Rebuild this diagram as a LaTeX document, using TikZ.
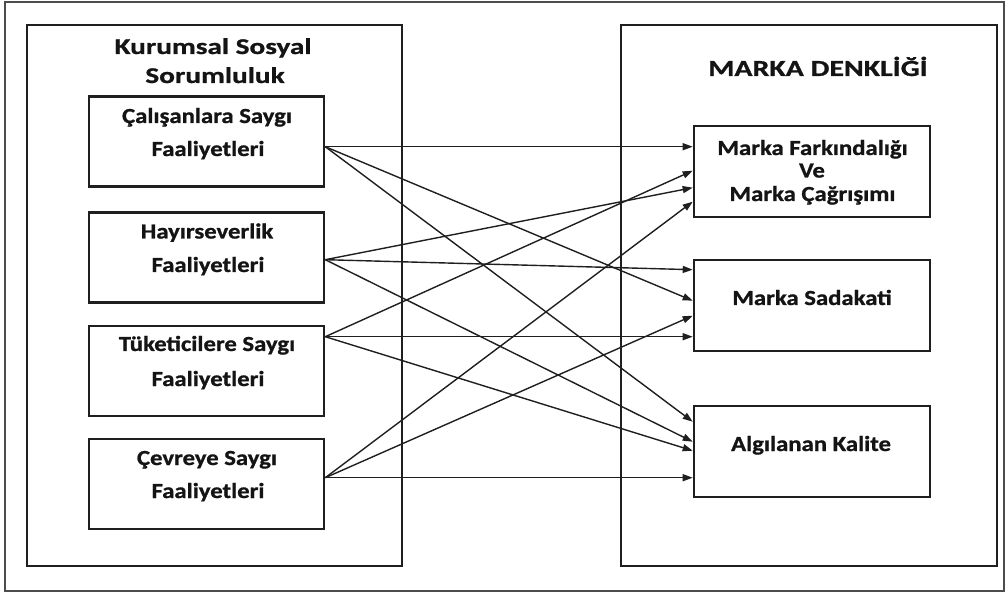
\documentclass[tikz,border=0pt]{standalone}
\usepackage{fontspec}
\setmainfont{Carlito}[FakeStretch=1.15, BoldFeatures={FakeBold=1}]
\newfontfamily\headfont{Carlito}[FakeStretch=1.3, BoldFeatures={FakeBold=1}]
\usetikzlibrary{arrows.meta,calc}
\begin{document}
\begin{tikzpicture}[x=1pt,y=-1pt,
  outerframe/.style={draw=black!70,line width=1.2pt,inner sep=0pt},
  bigbox/.style={draw=black!88,line width=2.6pt,inner sep=0pt},
  box/.style={draw=black!88,line width=2.6pt,inner sep=0pt,minimum width=235pt,minimum height=90pt},
  rbox/.style={draw=black!88,line width=2.6pt,inner sep=0pt,minimum width=236pt,minimum height=91pt},
  head/.style={font=\headfont\bfseries\fontsize{22.5}{26}\selectfont,anchor=base,inner sep=0pt,text=black!92},
  lbl/.style={font=\bfseries\fontsize{21.5}{26}\selectfont,anchor=base,inner sep=0pt,text=black!92},
  rlbl/.style={font=\bfseries\fontsize{21.5}{24}\selectfont,anchor=base,inner sep=0pt,text=black!92},
  conn/.style={draw=black!88,line width=1.4pt,-{Triangle[length=10pt,width=7pt]}}]
\useasboundingbox (0,0) rectangle (1006,593);
% outer frame and containers
\node[outerframe,minimum width=999pt,minimum height=589pt] (frame) at (504.5,296.5) {};
\node[bigbox,minimum width=375pt,minimum height=541pt] (L) at (214.5,295.5) {};
\node[bigbox,minimum width=376pt,minimum height=541pt] (R) at (809,295.5) {};
% headings
\node[head] (hl1) at (213,54) {Kurumsal Sosyal};
\node[head] (hl2) at (215,83) {Sorumluluk};
\node[head,font=\headfont\bfseries\fontsize{23}{26}\selectfont] (hr) at (818,76) {MARKA DENKLİĞİ};
% left boxes
\node[box] (b1) at (206.5,141.5) {};
\node[box] (b2) at (206.5,257.5) {};
\node[box] (b3) at (206.5,371) {};
\node[box] (b4) at (206.5,484) {};
\node[lbl] (t1a) at (207,123) {Çalışanlara Saygı};
\node[lbl] (t1b) at (208,156) {Faaliyetleri};
\node[lbl] (t2a) at (207,238.5) {Hayırseverlik};
\node[lbl] (t2b) at (208,272) {Faaliyetleri};
\node[lbl] (t3a) at (207,351) {Tüketicilere Saygı};
\node[lbl] (t3b) at (208,386) {Faaliyetleri};
\node[lbl] (t4a) at (207,465) {Çevreye Saygı};
\node[lbl] (t4b) at (208,498) {Faaliyetleri};
% right boxes
\node[rbox] (r1) at (812,171.5) {};
\node[rbox] (r2) at (812,305.5) {};
\node[rbox] (r3) at (812,451.5) {};
\node[rlbl] (u1a) at (812.5,155) {Marka Farkındalığı};
\node[rlbl] (u1b) at (812,177.5) {Ve};
\node[rlbl] (u1c) at (812.5,201) {Marka Çağrışımı};
\node[rlbl] (u2) at (812,305) {Marka Sadakati};
\node[rlbl] (u3) at (811,451) {Algılanan Kalite};
% ports
\coordinate (p1) at ($(b1.north east)+(0,51.5)$);
\coordinate (p2) at ($(b2.north east)+(0,48.5)$);
\coordinate (p3) at ($(b3.north east)+(0,12)$);
\coordinate (p4) at ($(b4.north east)+(0,40)$);
% connectors
\draw[conn] (p1) -- ($(r1.north west)+(0,22)$);
\draw[conn] (p1) -- ($(r2.north west)+(0,42)$);
\draw[conn] (p1) -- ($(r3.north west)+(0,17)$);
\draw[conn] (p2) -- ($(r1.north west)+(0,63)$);
\draw[conn] (p2) -- ($(r2.north west)+(0,11)$);
\draw[conn] (p2) -- ($(r3.north west)+(0,37)$);
\draw[conn] (p3) -- ($(r1.north west)+(0,46)$);
\draw[conn] (p3) -- ($(r2.north west)+(0,78)$);
\draw[conn] (p3) -- ($(r3.north west)+(0,46)$);
\draw[conn] (p4) -- ($(r1.north west)+(0,77)$);
\draw[conn] (p4) -- ($(r2.north west)+(0,57)$);
\draw[conn] (p4) -- ($(r3.north west)+(0,73)$);
\end{tikzpicture}
\end{document}
